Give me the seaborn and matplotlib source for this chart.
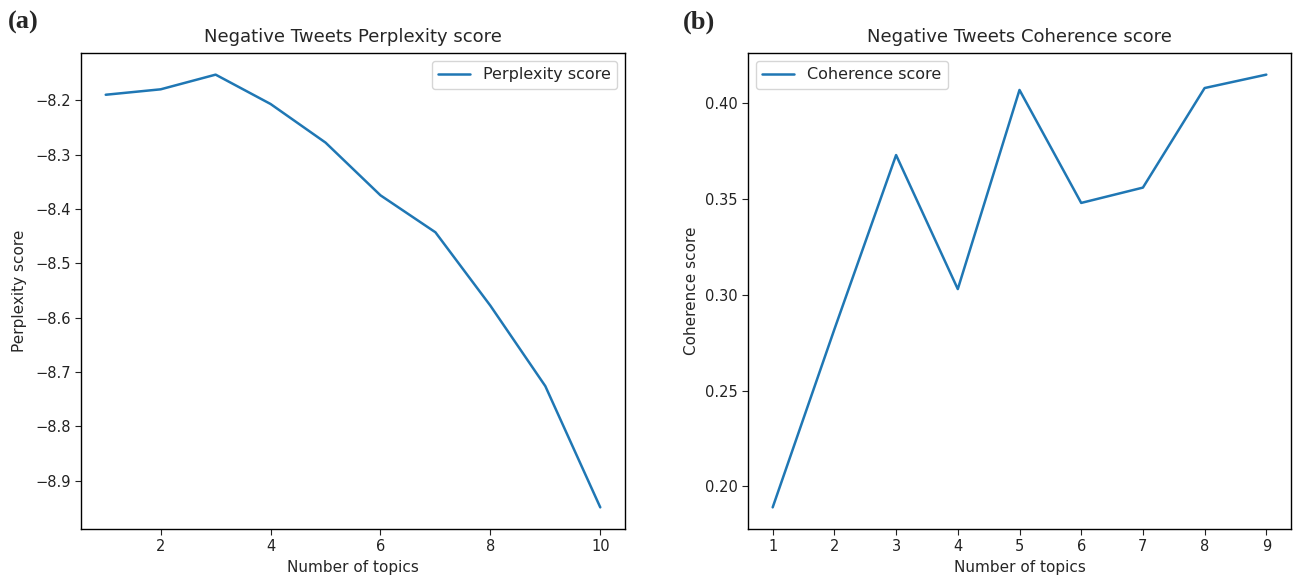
import matplotlib
matplotlib.use("Agg")
import matplotlib.pyplot as plt
import seaborn as sns
import pandas as pd

# Data
perp_topics = [1, 2, 3, 4, 5, 6, 7, 8, 9, 10]
perp_scores = [-8.190, -8.180, -8.153, -8.207, -8.278, -8.375, -8.443, -8.578, -8.726, -8.949]

coh_topics = [1, 2, 3, 4, 5, 6, 7, 8, 9]
coh_scores = [0.189, 0.282, 0.373, 0.303, 0.407, 0.348, 0.356, 0.408, 0.415]

sns.set_theme(style="white")
plt.rcParams['font.family'] = ['DejaVu Sans']
plt.rcParams['axes.edgecolor'] = 'black'
plt.rcParams['axes.linewidth'] = 1.0

W, H = 1293, 588
fig = plt.figure(figsize=(W / 100, H / 100), dpi=100)
ax1 = fig.add_axes([81 / W, (H - 529) / H, (625 - 81) / W, (529 - 53) / H])
ax2 = fig.add_axes([748 / W, (H - 529) / H, (1291 - 748) / W, (529 - 53) / H])

blue = "#1f77b4"
df1 = pd.DataFrame({"topics": perp_topics, "score": perp_scores})
df2 = pd.DataFrame({"topics": coh_topics, "score": coh_scores})

sns.lineplot(data=df1, x="topics", y="score", ax=ax1, color=blue, linewidth=1.8,
             label="Perplexity score")
sns.lineplot(data=df2, x="topics", y="score", ax=ax2, color=blue, linewidth=1.8,
             label="Coherence score")

tick_fs = 10.5
for ax in (ax1, ax2):
    ax.tick_params(axis='both', which='both', direction='out', length=4, width=0.8,
                   labelsize=tick_fs, colors='#222222', bottom=True, left=True)
    for sp in ax.spines.values():
        sp.set_color('black')
        sp.set_linewidth(1.0)

ax1.set_xticks([2, 4, 6, 8, 10])
ax1.set_yticks([-8.2, -8.3, -8.4, -8.5, -8.6, -8.7, -8.8, -8.9])
ax2.set_xticks(coh_topics)
ax2.set_yticks([0.20, 0.25, 0.30, 0.35, 0.40])
ax2.set_yticklabels(["0.20", "0.25", "0.30", "0.35", "0.40"])

ax1.set_title("Negative Tweets Perplexity score", fontsize=13, pad=8)
ax2.set_title("Negative Tweets Coherence score", fontsize=13, pad=8)
ax1.set_xlabel("Number of topics", fontsize=11)
ax2.set_xlabel("Number of topics", fontsize=11)
ax1.set_ylabel("Perplexity score", fontsize=11, labelpad=6)
ax2.set_ylabel("Coherence score", fontsize=11)

ax1.legend(loc="upper right", fontsize=11.5, frameon=True)
ax2.legend(loc="upper left", fontsize=11.5, frameon=True)

fig.text(8 / W, 1 - 22 / H, "(a)", fontsize=19, fontweight="bold",
         family="Liberation Serif", va="center", ha="left")
fig.text(683 / W, 1 - 22 / H, "(b)", fontsize=19, fontweight="bold",
         family="Liberation Serif", va="center", ha="left")

fig.savefig("out.png", dpi=100)
